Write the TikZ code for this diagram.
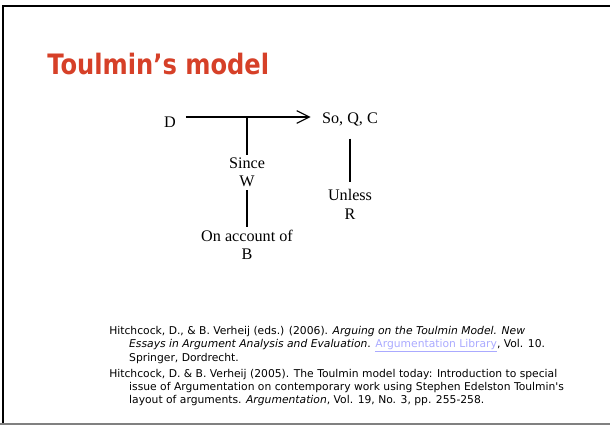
\documentclass[tikz,border=0pt]{standalone}
\usepackage{fontspec}
\usepackage{tikz}
\usetikzlibrary{arrows.meta}
\newfontfamily\tmfont{Liberation Serif}
\newfontfamily\vdfont{DejaVu Sans}
\newfontfamily\ttlfont[FakeStretch=0.86]{DejaVu Sans}
\definecolor{titlered}{RGB}{214,64,40}
\definecolor{linkblue}{RGB}{170,170,255}
\tikzset{
  lbl/.style={font=\tmfont\fontsize{11.5}{13}\selectfont,align=center,inner sep=2pt},
  refs/.style={font=\vdfont\fontsize{7.65}{9.05}\selectfont,align=left,anchor=north west,inner sep=0pt}
}

\begin{document}
\begin{tikzpicture}
\useasboundingbox (0,0) rectangle (15.25,10.65);
% frame
\draw[line width=1.5pt] (0.075,0.05) -- (0.075,10.5) -- (15.25,10.5);
\draw[gray,line width=0.8pt] (0,0.05) -- (15.25,0.05);
% title
\node[anchor=base west,inner sep=0pt,text=titlered,font=\ttlfont\bfseries\fontsize{20}{24}\selectfont] (title) at (1.175,8.775) {Toulmin’s model};
% the model
\node[lbl] (D) at (4.25,7.6) {D};
\node[lbl] (claim) at (8.75,7.675) {So, Q, C};
\node[lbl] (warrant) at (6.175,6.34) {Since\\W};
\node[lbl] (backing) at (6.175,4.525) {On account of\\B};
\node[lbl] (rebuttal) at (8.75,5.54) {Unless\\R};
\coordinate (t) at (6.175,7.725);
\draw[line width=0.8pt,-{Straight Barb[length=9pt,width=9pt]},shorten <=5pt,shorten >=6pt] (D.east |- t) -- (claim.west |- t);
\draw[line width=0.8pt] (t) -- (warrant);
\draw[line width=0.8pt] (warrant) -- (backing);
\draw[line width=0.8pt,shorten <=7pt,shorten >=3pt] (claim) -- (rebuttal);
% references
\node[refs] (ref1) at (2.725,2.5) {Hitchcock, D., \& B. Verheij (eds.) (2006). \textit{Arguing on the Toulmin Model. New}\\
\hspace*{1.85em}\textit{Essays in Argument Analysis and Evaluation}. \textcolor{linkblue}{\underline{Argumentation Library}}, Vol. 10.\\
\hspace*{1.85em}Springer, Dordrecht.};
\node[refs] (ref2) at (2.725,1.42) {Hitchcock, D. \& B. Verheij (2005). The Toulmin model today: Introduction to special\\
\hspace*{1.85em}issue of Argumentation on contemporary work using Stephen Edelston Toulmin's\\
\hspace*{1.85em}layout of arguments. \textit{Argumentation}, Vol. 19, No. 3, pp. 255-258.};
\end{tikzpicture}
\end{document}
